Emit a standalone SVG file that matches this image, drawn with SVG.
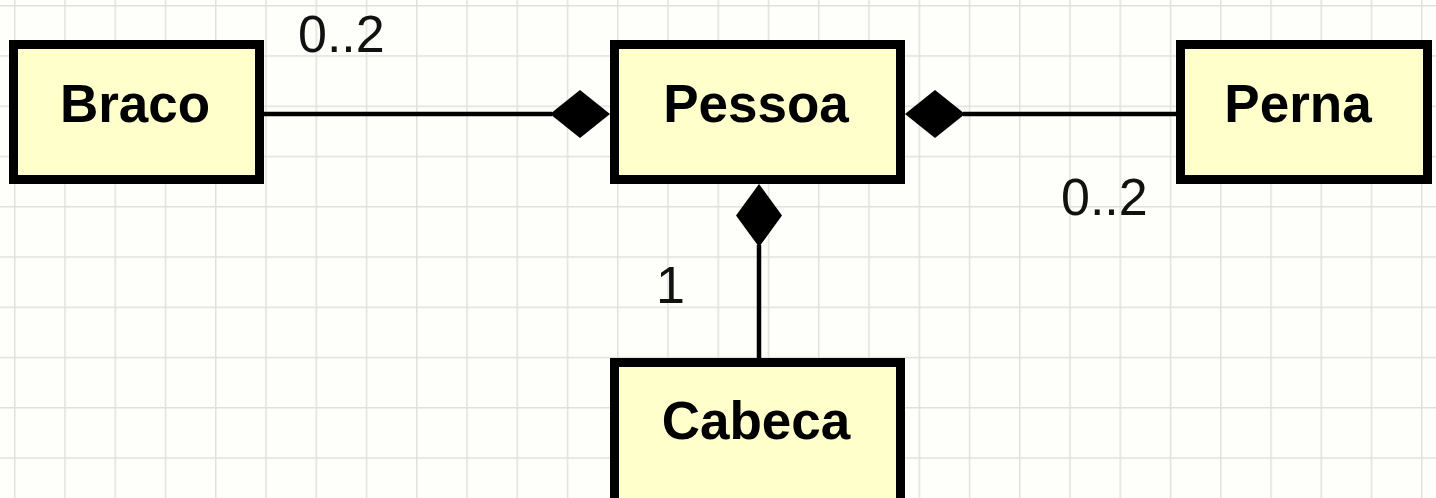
<svg xmlns="http://www.w3.org/2000/svg" width="1436" height="498" viewBox="0 0 1436 498">
  <style>
    .cls { fill: #ffffcc; stroke: #000; stroke-width: 9; }
    .name { font-family: "Liberation Sans", Arial, sans-serif; font-weight: bold; font-size: 53px; fill: #000; text-anchor: middle; }
    .mult { font-family: "Liberation Sans", Arial, sans-serif; font-size: 52px; fill: #111; }
    .edge { stroke: #000; stroke-width: 4.5; fill: none; }
    .comp { fill: #000; stroke: none; }
  </style>
  <defs>
    <pattern id="grid" patternUnits="userSpaceOnUse" x="14" y="5" width="50.25" height="50.25">
      <path d="M0.75 0 V50.25 M0 0.75 H50.25" stroke="#e0e0dd" stroke-width="1.5" fill="none"/>
    </pattern>
  </defs>

  <!-- canvas -->
  <rect width="1436" height="498" fill="#fefefb"/>
  <rect width="1436" height="498" fill="url(#grid)"/>

  <!-- composition links -->
  <g id="connectors">
    <line class="edge" x1="264" y1="114" x2="552" y2="114"/>
    <polygon class="comp" points="550,114 580,90 610,114 580,138"/>
    <text class="mult" x="298" y="52">0..2</text>

    <line class="edge" x1="963" y1="114" x2="1176" y2="114"/>
    <polygon class="comp" points="905,114 935,90 965,114 935,138"/>
    <text class="mult" x="1061" y="215">0..2</text>

    <line class="edge" x1="759" y1="245" x2="759" y2="358"/>
    <polygon class="comp" points="759,184 782,215.5 759,247 736,215.5"/>
    <text class="mult" x="656" y="303">1</text>
  </g>

  <g id="braco">
    <rect class="cls" x="13.5" y="44.5" width="246" height="135"/>
    <text class="name" x="135" y="122">Braco</text>
  </g>

  <g id="pessoa">
    <rect class="cls" x="614.5" y="44.5" width="286" height="135"/>
    <text class="name" x="756" y="122">Pessoa</text>
  </g>

  <g id="perna">
    <rect class="cls" x="1180.5" y="44.5" width="247" height="135"/>
    <text class="name" x="1298" y="122">Perna</text>
  </g>

  <g id="cabeca">
    <rect class="cls" x="614.5" y="362.5" width="286" height="150"/>
    <text class="name" x="756" y="439">Cabeca</text>
  </g>
</svg>
